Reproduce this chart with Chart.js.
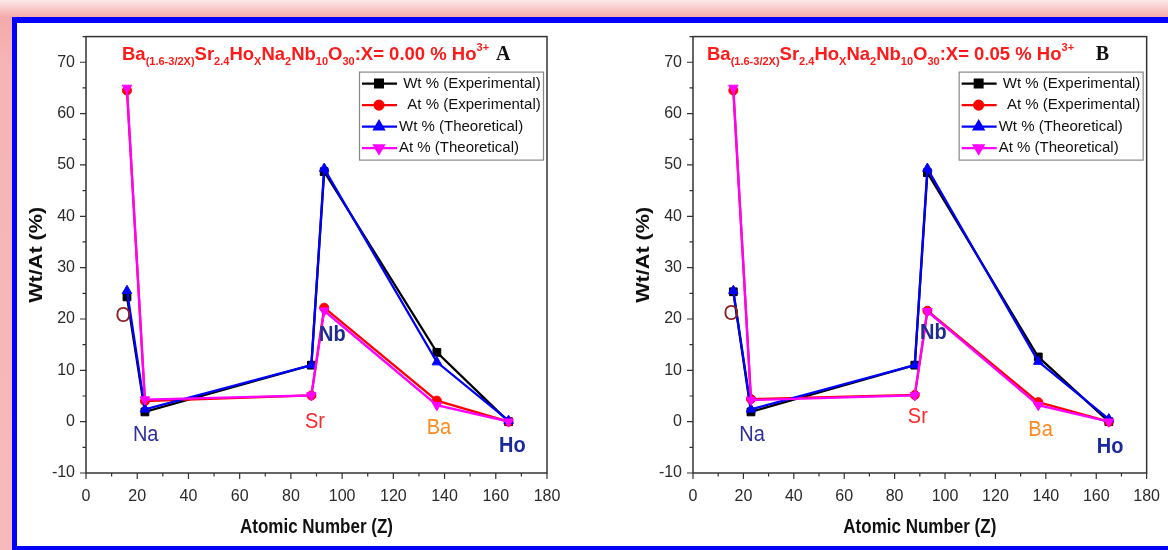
<!DOCTYPE html>
<html>
<head>
<meta charset="utf-8">
<script src="https://cdn.jsdelivr.net/npm/chart.js@4.4.1/dist/chart.umd.min.js"></script>
<style>
html,body{margin:0;padding:0;}
body{width:1168px;height:550px;overflow:hidden;position:relative;
background:linear-gradient(to bottom,#fde9e9 0px,#f4aaaa 17px,#f6b4b4 60px,#f7baba 550px);}
#frame{position:absolute;left:12px;top:17px;width:1180px;height:534px;box-sizing:border-box;border:5px solid #0000ff;border-top-width:6px;background:#fff;}
#ca{position:absolute;left:17px;top:22px;}
#cb{position:absolute;left:577px;top:22px;}
</style>
</head>
<body>
<div id="frame"></div>
<canvas id="ca" width="560" height="528"></canvas>
<canvas id="cb" width="591" height="528"></canvas>
<script>
// element positions (atomic mass used as x in the original)
const elements = ["O", "Na", "Sr", "Nb", "Ba", "Ho"];
const atomicZ = [16, 23, 88, 93, 137, 165];
const seriesNames = [" Wt % (Experimental)", "  At % (Experimental)", "Wt % (Theoretical)", "At % (Theoretical)"];

// panel A : X = 0.00 %
const wtExpA  = [24.3, 1.9, 11.0, 48.7, 13.5, 0.0];
const atExpA  = [64.5, 4.0, 5.1, 22.2, 4.1, 0.0];
const wtTheoA = [25.5, 2.4, 11.0, 49.3, 11.6, 0.2];
const atTheoA = [65.0, 4.3, 5.1, 21.6, 3.2, 0.0];

// panel B : X = 0.05 %
const wtExpB  = [25.3, 1.9, 11.0, 48.5, 12.6, 0.0];
const atExpB  = [64.5, 4.4, 5.2, 21.6, 3.8, 0.0];
const wtTheoB = [25.5, 2.4, 11.0, 49.3, 11.7, 0.5];
const atTheoB = [65.0, 4.2, 5.1, 21.5, 3.2, 0.0];

// element label anchors (data coords)
const labelXA = [14.6, 23.3, 89.4, 96.2, 137.8, 166.5];
const labelYA = [20.6, -2.6, 0.0, 16.8, -1.3, -4.8];
const labelXB = [15.2, 23.4, 89.2, 95.4, 137.9, 165.5];
const labelYB = [21.0, -2.6, 0.9, 17.2, -1.6, -4.9];

const xTicks = [0, 20, 40, 60, 80, 100, 120, 140, 160, 180];
const yTicks = [-10, 0, 10, 20, 30, 40, 50, 60, 70];

const labelColors = ["#8b1f1f", "#2e2e9e", "#ff2a2a", "#1f2b8f", "#ff8a1e", "#1a2a9e"];
const labelBold = [false, false, false, true, false, true];

const styles = [
  {color: "#000000", pointStyle: "rect", radius: 5.5, rotation: 0, order: 4},
  {color: "#ff0000", pointStyle: "circle", radius: 4.5, rotation: 0, order: 3},
  {color: "#0000ff", pointStyle: "triangle", radius: 5.5, rotation: 0, order: 2},
  {color: "#ff00ff", pointStyle: "triangle", radius: 5.5, rotation: 180, order: 1}
];

const SANS = "'Liberation Sans', Arial, sans-serif";

function formulaPieces(x) {
  return [["Ba",0],["(1.6-3/2X)",1],["Sr",0],["2.4",1],["Ho",0],["X",1],["Na",0],["2",1],
    ["Nb",0],["10",1],["O",0],["30",1],[":X= " + x + " % Ho",0],["3+",2]];
}

const decor = {
  id: "decor",
  afterDraw(chart) {
    const ctx = chart.ctx, ca = chart.chartArea;
    const xs = chart.scales.x, ys = chart.scales.y;
    const o = chart.options.plugins.decor;
    ctx.save();
    // frame
    ctx.strokeStyle = "#333";
    ctx.lineWidth = 1.5;
    ctx.strokeRect(ca.left, ca.top, ca.right - ca.left, ca.bottom - ca.top);
    // ticks
    ctx.lineWidth = 1.2;
    ctx.beginPath();
    for (let i = 0; i < xTicks.length; i++) {
      const px = xs.getPixelForValue(xTicks[i]);
      ctx.moveTo(px, ca.bottom); ctx.lineTo(px, ca.bottom + 6);
      if (i < xTicks.length - 1) {
        const pm = xs.getPixelForValue((xTicks[i] + xTicks[i + 1]) / 2);
        ctx.moveTo(pm, ca.bottom); ctx.lineTo(pm, ca.bottom + 3.5);
      }
    }
    for (let i = 0; i < yTicks.length; i++) {
      const py = ys.getPixelForValue(yTicks[i]);
      ctx.moveTo(ca.left, py); ctx.lineTo(ca.left - 6, py);
      const pm = ys.getPixelForValue(yTicks[i] + 5);
      ctx.moveTo(ca.left, pm); ctx.lineTo(ca.left - 3.5, pm);
    }
    ctx.stroke();

    // axis titles
    ctx.fillStyle = "#111";
    ctx.textAlign = "center";
    ctx.textBaseline = "middle";
    ctx.font = "bold 18px " + SANS;
    ctx.save();
    ctx.translate(ca.left - 49, (ca.top + ca.bottom) / 2);
    ctx.rotate(-Math.PI / 2);
    ctx.scale(1.2, 1);
    ctx.fillText("Wt/At (%)", 0, 0);
    ctx.restore();
    ctx.save();
    ctx.translate((ca.left + ca.right) / 2, ca.bottom + 55);
    ctx.scale(1, 1.15);
    ctx.font = "bold 17px " + SANS;
    ctx.fillText("Atomic Number (Z)", 0, 0);
    ctx.restore();

    // element labels
    for (let i = 0; i < elements.length; i++) {
      ctx.fillStyle = labelColors[i];
      ctx.font = (labelBold[i] ? "bold " : "") + "20px " + SANS;
      ctx.save();
      ctx.translate(xs.getPixelForValue(o.lx[i]), ys.getPixelForValue(o.ly[i]));
      ctx.scale(1, 1.08);
      ctx.fillText(elements[i], 0, 0);
      ctx.restore();
    }

    // formula title
    ctx.textAlign = "left";
    ctx.textBaseline = "alphabetic";
    ctx.fillStyle = "#ff1a1a";
    let tx = ca.left + o.titleOffset;
    const base = ca.top + 23;
    for (const [t, k] of formulaPieces(o.x)) {
      ctx.font = k === 0 ? "bold 18.5px " + SANS : "bold 11px " + SANS;
      const dy = k === 1 ? 5 : (k === 2 ? -9 : 0);
      ctx.fillText(t, tx, base + dy);
      tx += ctx.measureText(t).width;
    }
    ctx.fillStyle = "#111";
    ctx.font = "bold 20px 'Liberation Serif', 'Times New Roman', serif";
    ctx.fillText(o.letter, ca.right - 51, base);

    // legend
    const lx = ca.right - 188, ly = ca.top + 35;
    ctx.fillStyle = "#fff";
    ctx.fillRect(lx, ly, 184, 88);
    ctx.strokeStyle = "#888";
    ctx.lineWidth = 1.2;
    ctx.strokeRect(lx + 0.5, ly + 0.5, 184, 88);
    ctx.textBaseline = "middle";
    ctx.font = "15px " + SANS;
    for (let i = 0; i < styles.length; i++) {
      const s = styles[i];
      const ry = ly + 12 + i * 21.5;
      ctx.strokeStyle = s.color;
      ctx.lineWidth = 2.2;
      ctx.beginPath();
      ctx.moveTo(lx + 3, ry); ctx.lineTo(lx + 38, ry);
      ctx.stroke();
      ctx.fillStyle = s.color;
      Chart.helpers.drawPoint(ctx, {pointStyle: s.pointStyle, rotation: s.rotation, radius: s.radius, borderWidth: 1}, lx + 20, ry);
      ctx.fillStyle = "#111";
      ctx.fillText(seriesNames[i], lx + 40, ry);
    }
    ctx.restore();
  }
};

function makePanel(id, series, lx, ly, x, letter, titleOffset, padLeft, padRight) {
  const datasets = series.map((vals, i) => ({
    label: seriesNames[i],
    data: atomicZ.map((z, j) => ({x: z, y: vals[j]})),
    borderColor: styles[i].color,
    backgroundColor: styles[i].color,
    pointBackgroundColor: styles[i].color,
    pointBorderColor: styles[i].color,
    borderWidth: 2.3,
    pointStyle: styles[i].pointStyle,
    pointRotation: styles[i].rotation,
    pointRadius: styles[i].radius,
    pointBorderWidth: 1,
    tension: 0,
    order: styles[i].order
  }));
  const tickFont = {family: "Liberation Sans", size: 16};
  return new Chart(document.getElementById(id), {
    type: "line",
    data: {datasets},
    options: {
      responsive: false,
      animation: false,
      layout: {padding: {left: padLeft, right: padRight, top: 13, bottom: 0}},
      plugins: {
        legend: {display: false},
        tooltip: {enabled: false},
        decor: {lx, ly, x, letter, titleOffset}
      },
      scales: {
        x: {
          type: "linear", min: 0, max: 180,
          afterBuildTicks: s => { s.ticks = xTicks.map(v => ({value: v})); },
          afterFit: s => { s.height = 77; },
          grid: {display: true, drawOnChartArea: false, color: "transparent", tickLength: 6},
          border: {display: false},
          ticks: {font: tickFont, color: "#2a2a2a", padding: 8, maxRotation: 0, autoSkip: false}
        },
        y: {
          type: "linear", min: -10, max: 75,
          afterBuildTicks: s => { s.ticks = yTicks.map(v => ({value: v})); },
          afterFit: s => { s.width = 69; },
          grid: {display: true, drawOnChartArea: false, color: "transparent", tickLength: 6},
          border: {display: false},
          ticks: {font: tickFont, color: "#2a2a2a", padding: 5}
        }
      }
    },
    plugins: [decor]
  });
}

makePanel("ca", [wtExpA, atExpA, wtTheoA, atTheoA], labelXA, labelYA, "0.00", "A", 36, 0, 30);
makePanel("cb", [wtExpB, atExpB, wtTheoB, atTheoB], labelXB, labelYB, "0.05", "B", 14, 47, 13);
</script>
</body>
</html>
